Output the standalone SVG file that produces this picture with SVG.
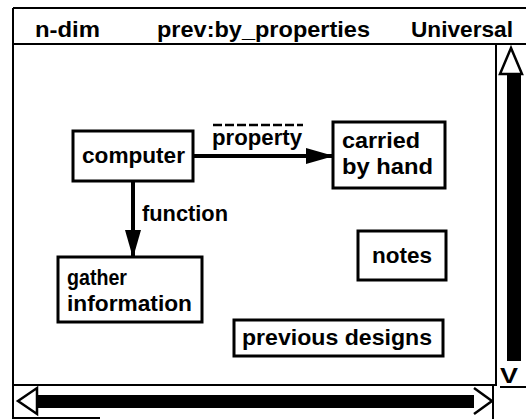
<svg xmlns="http://www.w3.org/2000/svg" width="526" height="419" viewBox="0 0 526 419">
<defs>
<style>
text{font-family:"Liberation Sans",Arial,sans-serif;font-weight:bold;font-size:22px;fill:#000}
.box{fill:#fff;stroke:#000;stroke-width:3}
.frame{fill:none;stroke:#000;stroke-width:2}
.edge{stroke:#000;stroke-width:4;fill:none}
</style>
<marker id="ah" markerWidth="7" markerHeight="4" refX="6.5" refY="2" orient="auto" markerUnits="strokeWidth">
<path d="M0,0 L7,2 L0,4 Z" fill="#000"/>
</marker>
</defs>
<rect width="526" height="419" fill="#fff"/>
<g id="frame">
<path class="frame" d="M13,8 H526 M13,8 V419 M13,44 H526 M496,44 V386 M13,385 H496 M493,385 V419 M13,418 H100 M500,387 H526"/>
</g>
<g id="header">
<text x="35" y="37" textLength="65" lengthAdjust="spacingAndGlyphs">n-dim</text>
<text x="157" y="37" textLength="213" lengthAdjust="spacingAndGlyphs">prev:by_properties</text>
<text x="411" y="37" textLength="102" lengthAdjust="spacingAndGlyphs">Universal</text>
</g>
<g id="vscroll">
<path d="M511,48 L500,74 L522,74 Z" fill="#fff" stroke="#000" stroke-width="2.5"/>
<rect x="507" y="75" width="14" height="286" fill="#000"/>
<text x="500" y="383" font-size="25" textLength="18" lengthAdjust="spacingAndGlyphs">V</text>
</g>
<g id="hscroll">
<path d="M18,401 L37,388 L37,414 Z" fill="#fff" stroke="#000" stroke-width="2.5"/>
<rect x="37" y="395" width="437" height="13" fill="#000"/>
<path d="M474,388 L492,401 L474,414" fill="none" stroke="#000" stroke-width="2.5"/>
</g>
<g id="connectors">
<line class="edge" x1="193" y1="156" x2="332" y2="156" marker-end="url(#ah)"/>
<line x1="213" y1="125" x2="303" y2="125" stroke="#000" stroke-width="2.5" stroke-dasharray="9,3"/>
<text x="212" y="145" textLength="90" lengthAdjust="spacingAndGlyphs">property</text>
<line class="edge" x1="133" y1="181" x2="133" y2="256" marker-end="url(#ah)"/>
<text x="142" y="221" textLength="86" lengthAdjust="spacingAndGlyphs">function</text>
</g>
<g id="node-computer">
<rect class="box" x="73" y="131" width="120" height="50"/>
<text x="82" y="163" textLength="103" lengthAdjust="spacingAndGlyphs">computer</text>
</g>
<g id="node-carried">
<rect class="box" x="333" y="122" width="112" height="66"/>
<text x="342" y="148" textLength="78" lengthAdjust="spacingAndGlyphs">carried</text>
<text x="342" y="174" textLength="91" lengthAdjust="spacingAndGlyphs">by hand</text>
</g>
<g id="node-gather">
<rect class="box" x="58" y="257" width="144" height="65"/>
<text x="67" y="285" textLength="60" lengthAdjust="spacingAndGlyphs">gather</text>
<text x="67" y="311" textLength="125" lengthAdjust="spacingAndGlyphs">information</text>
</g>
<g id="node-notes">
<rect class="box" x="358" y="231" width="88" height="49"/>
<text x="372" y="263" textLength="60" lengthAdjust="spacingAndGlyphs">notes</text>
</g>
<g id="node-previous">
<rect class="box" x="234" y="320" width="209" height="36"/>
<text x="242" y="345" textLength="190" lengthAdjust="spacingAndGlyphs">previous designs</text>
</g>
</svg>
